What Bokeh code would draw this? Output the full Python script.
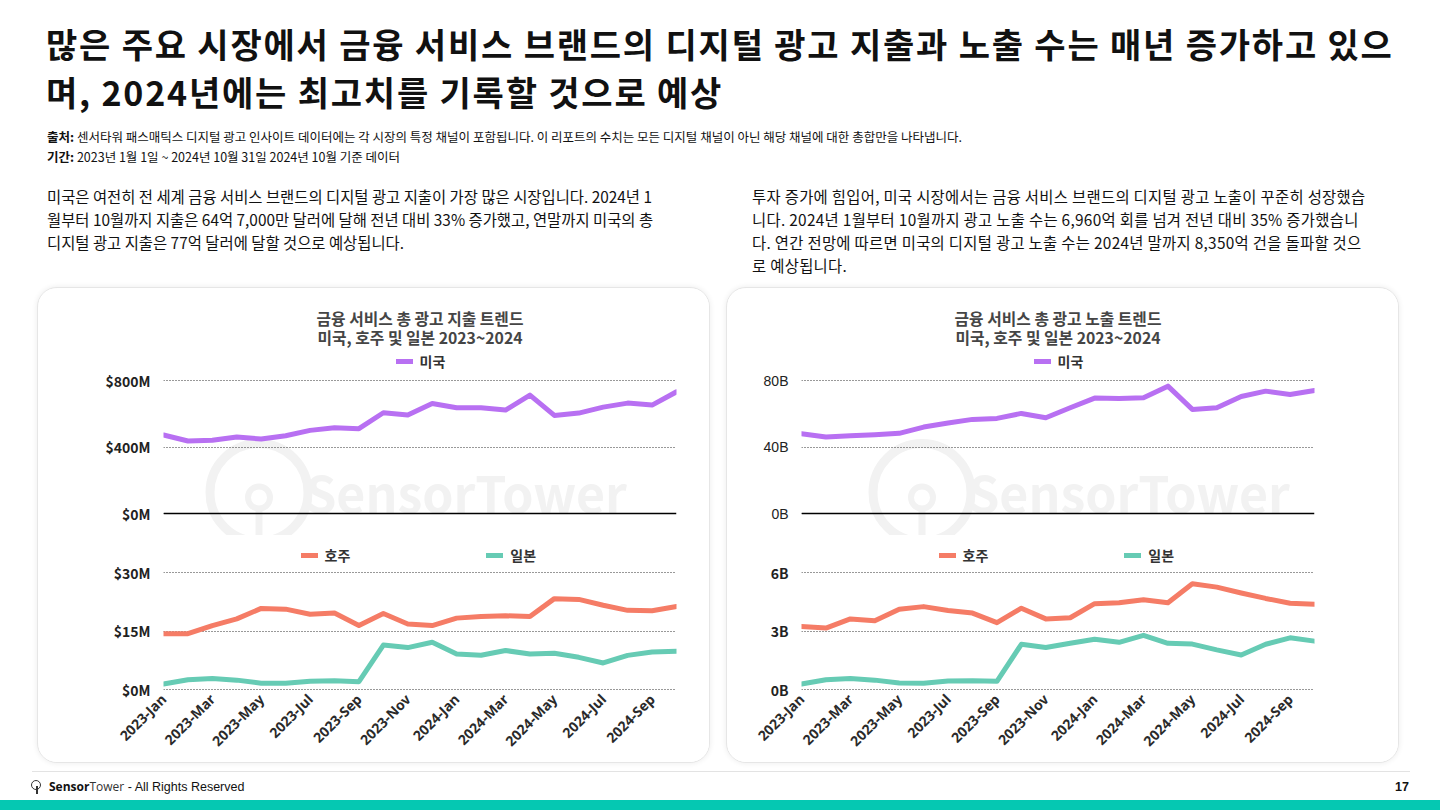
import math
from bokeh.plotting import figure
from bokeh.models import (Range1d, FixedTicker, PrintfTickFormatter, Span, Label,
                          Legend, LegendItem, Div, Spacer)
from bokeh.layouts import column, row
from bokeh.embed import file_html
from bokeh.resources import INLINE

# ---------------- data ----------------
months = ["2023-Jan", "2023-Feb", "2023-Mar", "2023-Apr", "2023-May", "2023-Jun",
          "2023-Jul", "2023-Aug", "2023-Sep", "2023-Oct", "2023-Nov", "2023-Dec",
          "2024-Jan", "2024-Feb", "2024-Mar", "2024-Apr", "2024-May", "2024-Jun",
          "2024-Jul", "2024-Aug", "2024-Sep", "2024-Oct"]

# ad spend, $M
us_spend = [472, 436, 440, 460, 448, 468, 500, 516, 510, 606, 592, 662,
            636, 636, 622, 712, 590, 604, 640, 664, 652, 732]
au_spend = [14.3, 14.3, 16.4, 18.1, 20.8, 20.6, 19.3, 19.6, 16.4, 19.5, 16.8, 16.4,
            18.3, 18.7, 18.9, 18.7, 23.3, 23.1, 21.6, 20.3, 20.2, 21.3]
jp_spend = [1.4, 2.5, 2.8, 2.4, 1.6, 1.6, 2.1, 2.25, 2.0, 11.4, 10.75, 12.1,
            9.1, 8.8, 10.0, 9.1, 9.3, 8.25, 6.8, 8.75, 9.6, 9.8]

# ad impressions, B
us_imp = [48.0, 46.0, 46.8, 47.4, 48.2, 52.0, 54.4, 56.6, 57.2, 60.2, 57.6, 63.6,
          69.4, 69.2, 69.6, 76.6, 62.6, 63.6, 70.4, 73.6, 71.6, 74.0]
au_imp = [3.23, 3.15, 3.62, 3.52, 4.12, 4.25, 4.05, 3.92, 3.43, 4.17, 3.62, 3.68,
          4.40, 4.45, 4.60, 4.45, 5.42, 5.25, 4.95, 4.67, 4.42, 4.37]
jp_imp = [0.28, 0.50, 0.57, 0.48, 0.33, 0.32, 0.43, 0.45, 0.42, 2.32, 2.15, 2.37,
          2.58, 2.42, 2.78, 2.37, 2.33, 2.03, 1.77, 2.32, 2.65, 2.48]

spend_top_ticks = [0, 400, 800]
spend_bottom_ticks = [0, 15, 30]
imp_top_ticks = [0, 40, 80]
imp_bottom_ticks = [0, 3, 6]
x_tick_idx = list(range(0, len(months), 2))

series_names = ["미국", "호주", "일본"]

# ---------------- style ----------------
FONT = "Noto Sans CJK KR"
PURPLE = "#b870f2"
SALMON = "#f57c66"
TEAL = "#66cbb4"
WM = "#f2f2f2"
x = list(range(len(months)))

PANEL_TOP = 287
TOP_H = 247
BOT_H = 227
FIG_W = 671
MB = 72


def yrange(v_hi, px_hi, v_lo, px_lo, top_px, bot_px):
    s = (px_lo - px_hi) / (v_hi - v_lo)
    return Range1d(v_lo - (bot_px - px_lo) / s, v_hi + (px_hi - top_px) / s)


def style_yaxis(p, ticks, fmt, font, size, weight):
    p.yaxis.ticker = FixedTicker(ticks=ticks)
    p.ygrid.ticker = FixedTicker(ticks=ticks)
    p.yaxis.formatter = PrintfTickFormatter(format=fmt)
    p.yaxis.axis_line_color = None
    p.yaxis.major_tick_line_color = None
    p.yaxis.minor_tick_line_color = None
    p.yaxis.major_label_standoff = 7
    p.yaxis.major_label_text_font = font
    p.yaxis.major_label_text_font_size = size
    p.yaxis.major_label_text_font_style = weight
    p.yaxis.major_label_text_color = "#222222"
    p.xgrid.visible = False
    p.ygrid.grid_line_color = "#333333"
    p.ygrid.grid_line_dash = "1 2"
    p.ygrid.grid_line_width = 1


def legend(items, loc):
    lg = Legend(items=items, location=loc, orientation="horizontal",
                label_text_font=FONT, label_text_font_size="14px",
                label_text_font_style="bold", label_text_color="#333333",
                glyph_width=17, glyph_height=14, label_height=14, label_standoff=7,
                spacing=136, padding=0, margin=0, border_line_color=None,
                background_fill_alpha=0)
    return lg


def top_chart(vals, ticks, fmt, fl, fr, title1, title2, tfont, tsize, tweight, wm_shift):
    fw = FIG_W - fl - fr
    p = figure(width=FIG_W, height=TOP_H, title=None,
               x_range=Range1d(0, len(months) - 1),
               y_range=yrange(ticks[-1], 380, 0, 513, PANEL_TOP + 1, PANEL_TOP + 1 + TOP_H),
               output_backend="svg", toolbar_location=None, x_axis_location=None,
               min_border=0, min_border_left=fl, min_border_right=fr,
               min_border_top=0, min_border_bottom=0, outline_line_color=None,
               background_fill_color="white", border_fill_color="white")
    style_yaxis(p, ticks, fmt, tfont, tsize, tweight)
    # watermark (SensorTower logo, faint)
    fbot = PANEL_TOP + 1 + TOP_H
    rng = p.y_range
    ppu = TOP_H / (rng.end - rng.start)
    ring_x = (fw / 2 - 161 + wm_shift) / fw * (len(months) - 1)
    p.scatter([ring_x], [rng.start + (fbot - 492) / ppu], marker="circle", size=98,
              fill_color=None, line_color=WM, line_width=9, level="underlay")
    p.scatter([ring_x], [rng.start + (fbot - 497) / ppu], marker="circle", size=22,
              fill_color=None, line_color=WM, line_width=6, level="underlay")
    p.segment([ring_x], [rng.start + (fbot - 508) / ppu], [ring_x],
              [rng.start + (fbot - 545) / ppu], line_color=WM, line_width=7,
              level="underlay")
    p.add_layout(Label(x=fw / 2 + 46 + wm_shift, y=fbot - 490,
                       x_units="screen", y_units="screen", text="SensorTower",
                       text_align="center", text_baseline="middle", text_font=FONT,
                       text_font_size="50px", text_font_style="bold",
                       text_color=WM, level="underlay"))
    p.add_layout(Span(location=0, dimension="width", line_color="black", line_width=1.5))
    r = p.line(x, vals, line_width=5, line_color=PURPLE, line_join="round",
               line_cap="round")
    # titles
    for txt, yy in ((title1, 318), (title2, 337)):
        p.add_layout(Label(x=fw / 2, y=fbot - yy, x_units="screen", y_units="screen",
                           text=txt, text_align="center", text_baseline="middle",
                           text_font=FONT, text_font_size="15.8px",
                           text_font_style="bold", text_color="#454545"))
    lg = legend([LegendItem(label=series_names[0], renderers=[r])],
                (fw / 2 - 24, fbot - 371))
    p.add_layout(lg)
    return p


def bottom_chart(v1, v2, ticks, fmt, fl, fr, tfont, tsize, tweight):
    fw = FIG_W - fl - fr
    top_px = PANEL_TOP + 1 + TOP_H
    bot_px = top_px + BOT_H
    fbot = bot_px - MB
    p = figure(width=FIG_W, height=BOT_H, title=None,
               x_range=Range1d(0, len(months) - 1),
               y_range=yrange(ticks[-1], 572, 0, fbot - 1, top_px, fbot),
               output_backend="svg", toolbar_location=None,
               min_border=0, min_border_left=fl, min_border_right=fr,
               min_border_top=0, min_border_bottom=MB, outline_line_color=None,
               background_fill_color="white", border_fill_color="white")
    style_yaxis(p, ticks, fmt, tfont, tsize, tweight)
    p.xaxis.ticker = FixedTicker(ticks=x_tick_idx)
    p.xaxis.major_label_overrides = {i: months[i] for i in x_tick_idx}
    p.xaxis.major_label_orientation = math.pi / 4
    p.xaxis.axis_line_color = None
    p.xaxis.major_tick_line_color = None
    p.xaxis.minor_tick_line_color = None
    p.xaxis.major_label_standoff = 0
    p.xaxis.major_label_text_font = "Noto Sans"
    p.xaxis.major_label_text_font_size = "14px"
    p.xaxis.major_label_text_font_style = "bold"
    p.xaxis.major_label_text_color = "#2a2a2a"
    r1 = p.line(x, v1, line_width=5, line_color=SALMON, line_join="round", line_cap="round")
    r2 = p.line(x, v2, line_width=5, line_color=TEAL, line_join="round", line_cap="round")
    lg = legend([LegendItem(label=series_names[1], renderers=[r1]),
                 LegendItem(label=series_names[2], renderers=[r2])],
                (fw / 2 - 119, fbot - 565))
    p.add_layout(lg)
    return p


PANEL_STYLE = {"border": "1px solid #e6e6e6", "border-radius": "20px",
               "overflow": "hidden", "box-shadow": "0 0 5px 1px rgba(0,0,0,0.06)",
               "background": "white"}

lt = top_chart(us_spend, spend_top_ticks, "$%dM", 125, 33,
               "금융 서비스 총 광고 지출 트렌드", "미국, 호주 및 일본 2023~2024",
               FONT, "14px", "bold", 0)
lb = bottom_chart(au_spend, jp_spend, spend_bottom_ticks, "$%dM", 125, 33,
                  FONT, "14px", "bold")
rt = top_chart(us_imp, imp_top_ticks, "%dB", 74, 84,
               "금융 서비스 총 광고 노출 트렌드", "미국, 호주 및 일본 2023~2024",
               "Liberation Sans", "14px", "normal", 25)
rb = bottom_chart(au_imp, jp_imp, imp_bottom_ticks, "%dB", 74, 84,
                  FONT, "14px", "bold")

left_panel = column(lt, lb, styles=PANEL_STYLE)
right_panel = column(rt, rb, styles=PANEL_STYLE)

header_html = f"""
<div style="position:relative;width:1440px;height:287px;font-family:'{FONT}';color:#111;">
<div style="position:absolute;left:46px;top:20px;font-size:34px;font-weight:700;line-height:48px;white-space:nowrap;letter-spacing:1.8px;">많은 주요 시장에서 금융 서비스 브랜드의 디지털 광고 지출과 노출 수는 매년 증가하고 있으<br>며, 2024년에는 최고치를 기록할 것으로 예상</div>
<div style="position:absolute;left:47px;top:127px;font-size:12.5px;line-height:20px;white-space:nowrap;color:#111;"><b>출처:</b> 센서타워 패스매틱스 디지털 광고 인사이트 데이터에는 각 시장의 특정 채널이 포함됩니다. 이 리포트의 수치는 모든 디지털 채널이 아닌 해당 채널에 대한 총합만을 나타냅니다.<br><b>기간:</b> 2023년 1월 1일 ~ 2024년 10월 31일 2024년 10월 기준 데이터</div>
<div style="position:absolute;left:47px;top:185px;font-size:15.4px;line-height:23px;white-space:nowrap;color:#111;">미국은 여전히 전 세계 금융 서비스 브랜드의 디지털 광고 지출이 가장 많은 시장입니다. 2024년 1<br>월부터 10월까지 지출은 64억 7,000만 달러에 달해 전년 대비 33% 증가했고, 연말까지 미국의 총<br>디지털 광고 지출은 77억 달러에 달할 것으로 예상됩니다.</div>
<div style="position:absolute;left:752px;top:185px;font-size:15.4px;line-height:23px;white-space:nowrap;color:#111;letter-spacing:0.3px;">투자 증가에 힘입어, 미국 시장에서는 금융 서비스 브랜드의 디지털 광고 노출이 꾸준히 성장했습<br>니다. 2024년 1월부터 10월까지 광고 노출 수는 6,960억 회를 넘겨 전년 대비 35% 증가했습니<br>다. 연간 전망에 따르면 미국의 디지털 광고 노출 수는 2024년 말까지 8,350억 건을 돌파할 것으<br>로 예상됩니다.</div>
</div>
"""
header = Div(text=header_html, width=1440, height=287, margin=0)

footer_html = """
<div style="position:relative;width:1440px;height:47px;">
<div style="position:absolute;left:32px;top:8px;width:1378px;height:1px;background:#e3e3e3;"></div>
<div style="position:absolute;left:31px;top:17px;width:10px;height:10px;border:1.5px solid #333;border-radius:50%;"></div>
<div style="position:absolute;left:36px;top:23px;width:2px;height:8px;background:#333;"></div>
<div style="position:absolute;left:49px;top:16px;font-family:'Liberation Sans';font-size:12.5px;line-height:16px;color:#111;white-space:nowrap;"><b style="font-family:'Open Sans';font-weight:700;font-size:12px;">Sensor</b><span style="font-family:'Open Sans';font-size:12px;color:#333;">Tower</span> - All Rights Reserved</div>
<div style="position:absolute;right:31px;top:16px;font-family:'Liberation Sans';font-size:12.5px;font-weight:700;line-height:16px;color:#111;">17</div>
<div style="position:absolute;left:0px;top:37px;width:1440px;height:10px;background:#05c8b2;"></div>
</div>
"""
footer = Div(text=footer_html, width=1440, height=47, margin=0)

charts_row = row(Spacer(width=37, height=476), left_panel, Spacer(width=16, height=476),
                 right_panel)
page = column(header, charts_row, footer)

open("out.html", "w").write(file_html(page, INLINE))
